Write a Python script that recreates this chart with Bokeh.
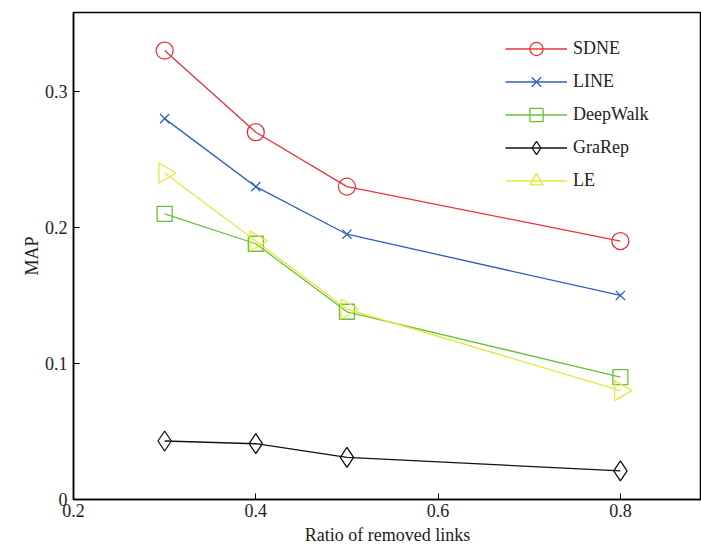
from bokeh.plotting import figure
from bokeh.models import Range1d, FixedTicker, Legend, LegendItem, ColumnDataSource
from bokeh.embed import file_html
from bokeh.resources import INLINE
import math

ratios = [0.3, 0.4, 0.5, 0.8]
sdne = [0.33, 0.27, 0.23, 0.19]
line_ = [0.28, 0.23, 0.195, 0.15]
deepwalk = [0.21, 0.188, 0.138, 0.09]
grarep = [0.043, 0.041, 0.031, 0.021]
le = [0.24, 0.19, 0.14, 0.08]

series_names = ["SDNE", "LINE", "DeepWalk", "GraRep", "LE"]
series_values = [sdne, line_, deepwalk, grarep, le]
colors = ["#e8323a", "#2f5fb8", "#66c23a", "#111111", "#e6e63c"]
markers = ["circle", "x", "square", "diamond", "triangle"]
angles = [0, 0, 0, 0, -math.pi / 2]
sizes = [17, 13, 15, 20, 20]

FONT = "Liberation Serif"

p = figure(width=701, height=549, output_backend="svg", toolbar_location=None,
           x_range=Range1d(0.2, 0.889), y_range=Range1d(0, 0.358),
           min_border_left=73, min_border_right=0, min_border_top=12, min_border_bottom=50)
p.background_fill_color = "white"
p.border_fill_color = "white"
p.outline_line_color = "black"
p.outline_line_width = 1.5
p.grid.visible = False

for ax in (p.xaxis[0], p.yaxis[0]):
    ax.major_tick_in = 6
    ax.major_tick_out = 0
    ax.minor_tick_in = 0
    ax.minor_tick_out = 0
    ax.axis_line_color = "black"
    ax.axis_line_width = 1.5
    ax.major_tick_line_width = 1
    ax.major_label_text_font = FONT
    ax.major_label_text_font_size = "18px"
    ax.major_label_text_color = "#222222"
    ax.axis_label_text_font = FONT
    ax.axis_label_text_font_size = "18px"
    ax.axis_label_text_font_style = "normal"
    ax.axis_label_text_color = "#222222"

p.xaxis.ticker = FixedTicker(ticks=[0.2, 0.4, 0.6, 0.8])
p.yaxis.ticker = FixedTicker(ticks=[0, 0.1, 0.2, 0.3])
p.xaxis.major_label_overrides = {0.2: "0.2", 0.4: "0.4", 0.6: "0.6", 0.8: "0.8"}
p.yaxis.major_label_overrides = {0: "0", 0.1: "0.1", 0.2: "0.2", 0.3: "0.3"}
p.xaxis.axis_label = "Ratio of removed links"
p.yaxis.axis_label = "MAP"
p.xaxis.major_label_standoff = 4
p.xaxis.axis_label_standoff = 5
p.yaxis.major_label_standoff = 6
p.yaxis.axis_label_standoff = 0

items = []
for name, vals, c, m, a, s in zip(series_names, series_values, colors, markers, angles, sizes):
    src = ColumnDataSource(dict(x=ratios, y=vals, angle=[a] * len(ratios)))
    r1 = p.line("x", "y", source=src, line_color=c, line_width=1.3)
    r2 = p.scatter("x", "y", source=src, marker=m, size=s, angle="angle", line_color=c,
                   fill_color=None, line_width=1.3)
    items.append(LegendItem(label=name, renderers=[r1, r2], index=0))

legend = Legend(items=items, location=(432, 302))
legend.border_line_color = None
legend.background_fill_alpha = 0
legend.glyph_width = 62
legend.glyph_height = 33
legend.label_height = 33
legend.spacing = 0
legend.padding = 0
legend.margin = 0
legend.label_text_font = FONT
legend.label_text_font_size = "18px"
legend.label_text_color = "#222222"
legend.label_standoff = 6
p.add_layout(legend)

open("out.html", "w").write(file_html(p, INLINE))
